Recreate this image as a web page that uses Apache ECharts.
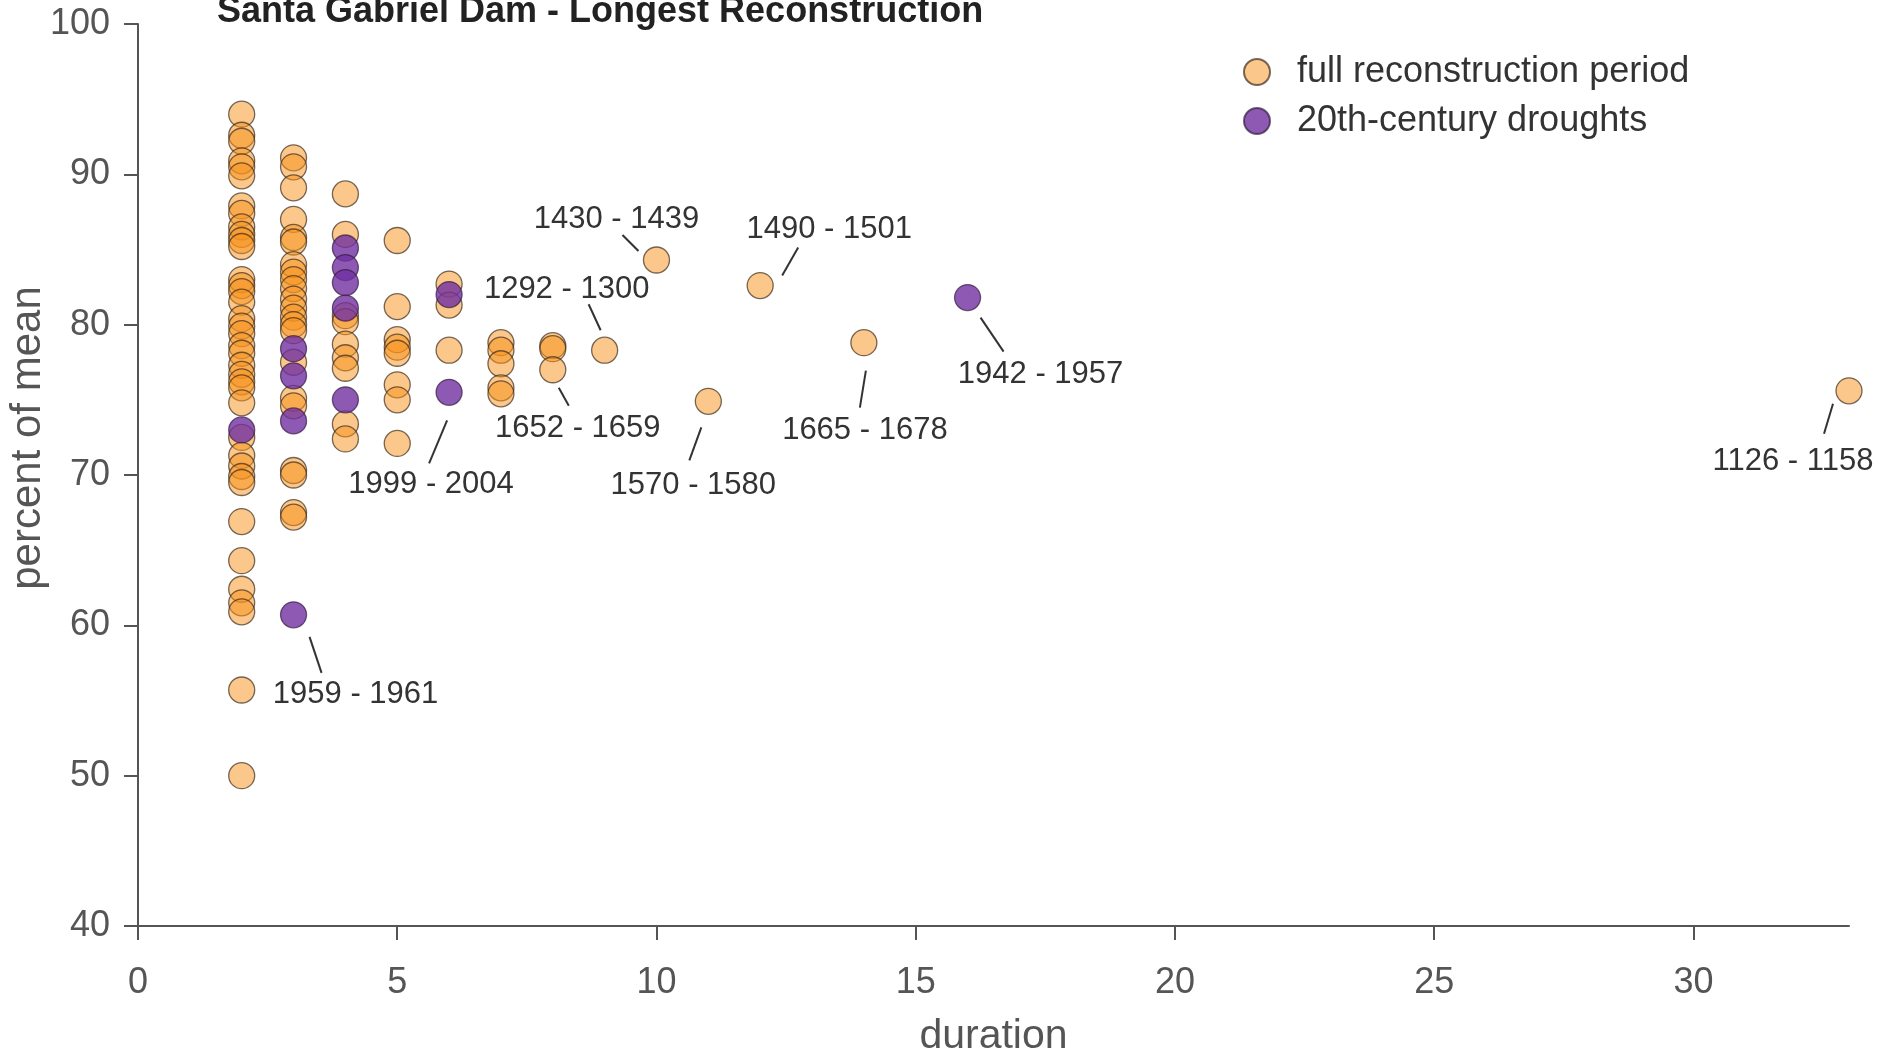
<!DOCTYPE html>
<html>
<head>
<meta charset="utf-8">
<script src="https://cdn.jsdelivr.net/npm/echarts@6/dist/echarts.min.js"></script>
<style>html,body{margin:0;padding:0;background:#fff}#c{width:1883px;height:1060px}</style>
</head>
<body>
<div id="c"></div>
<script>
// ---- data ----
const chartTitle = 'Santa Gabriel Dam - Longest Reconstruction';
const seriesNames = ['full reconstruction period', '20th-century droughts'];
const xTicks = [0, 5, 10, 15, 20, 25, 30];
const yTicks = [40, 50, 60, 70, 80, 90, 100];

// full reconstruction period: [duration, percent of mean]
const fullData = [
  [2,94.0],[2,92.6],[2,92.2],[2,90.9],[2,90.5],[2,89.9],[2,87.9],[2,87.4],[2,86.5],[2,86.0],
  [2,85.6],[2,85.2],[2,83.0],[2,82.6],[2,82.2],[2,81.5],[2,80.4],[2,79.9],[2,79.4],[2,78.6],
  [2,78.1],[2,77.3],[2,76.7],[2,76.2],[2,75.8],[2,74.8],[2,72.5],[2,71.3],[2,70.6],[2,69.9],
  [2,69.5],[2,66.9],[2,64.3],[2,62.4],[2,61.5],[2,60.9],[2,55.7],[2,50.0],
  [3,91.1],[3,90.5],[3,89.1],[3,87.0],[3,85.8],[3,85.5],[3,84.0],[3,83.5],[3,83.0],[3,82.4],
  [3,81.7],[3,81.1],[3,80.5],[3,80.0],[3,79.6],[3,77.5],[3,75.1],[3,74.6],[3,70.3],[3,70.0],
  [3,67.5],[3,67.2],
  [4,88.7],[4,86.0],[4,80.6],[4,80.2],[4,78.7],[4,77.8],[4,77.1],[4,73.4],[4,72.4],
  [5,85.6],[5,81.2],[5,79.0],[5,78.5],[5,78.1],[5,76.0],[5,75.0],[5,72.1],
  [6,82.7],[6,81.3],[6,78.3],
  [7,78.8],[7,78.3],[7,77.4],[7,75.8],[7,75.4],
  [8,78.6],[8,78.4],[8,77.0],
  [9,78.3],[10,84.3],[11,74.9],[12,82.6],[14,78.8],[33,75.6]
];
// 20th-century droughts
const droughtData = [
  [2,73.0],
  [3,78.4],[3,76.6],[3,73.6],[3,60.7],
  [4,85.1],[4,83.8],[4,82.8],[4,81.1],[4,75.0],
  [6,82.0],[6,75.5],
  [16,81.8]
];
// annotated events: [duration, percent, label]
const annotations = [
  [10,84.3,'1430 - 1439'],[12,82.6,'1490 - 1501'],[9,78.3,'1292 - 1300'],
  [8,77.0,'1652 - 1659'],[11,74.9,'1570 - 1580'],[14,78.8,'1665 - 1678'],
  [33,75.6,'1126 - 1158'],[6,75.5,'1999 - 2004'],[16,81.8,'1942 - 1957'],
  [3,60.7,'1959 - 1961']
];

// ---- annotation styling: pixel offsets from the point (text centre, leader start, leader end) ----
const annotStyle = {
  '1430 - 1439': { t: [-40, -41], l: [-34, -25, -18, -9] },
  '1490 - 1501': { t: [69, -56],  l: [22, -10, 38, -38] },
  '1292 - 1300': { t: [-38, -61], l: [-4, -20, -16, -46] },
  '1652 - 1659': { t: [25, 59],   l: [6, 18, 16, 36] },
  '1570 - 1580': { t: [-15, 84],  l: [-7, 26, -19, 59] },
  '1665 - 1678': { t: [1, 88],    l: [2, 28, -4, 65] },
  '1126 - 1158': { t: [-56, 71],  l: [-16, 13, -25, 43] },
  '1999 - 2004': { t: [-18, 92],  l: [-2, 28, -20, 71] },
  '1942 - 1957': { t: [73, 77],   l: [13, 20, 36, 54] },
  '1959 - 1961': { t: [62, 80],   l: [16, 22, 28, 58] }
};

const FONT = '"Liberation Sans", Arial, Helvetica, sans-serif';

const chart = echarts.init(document.getElementById('c'), null, { renderer: 'canvas' });
chart.setOption({
  backgroundColor: '#fff',
  animation: false,
  title: {
    text: chartTitle, left: 212, top: -11,
    textStyle: { fontFamily: FONT, fontSize: 36, fontWeight: 'bold', color: '#222' }
  },
  legend: {
    orient: 'vertical', left: 1238, top: 49, itemGap: 13,
    itemWidth: 26, itemHeight: 26, icon: 'circle',
    textStyle: { fontFamily: FONT, fontSize: 36, color: '#333', padding: [0, 0, 0, 22] },
    data: seriesNames
  },
  grid: { left: 138, right: 34, top: 24, bottom: 134, containLabel: false, outerBoundsMode: 'none' },
  xAxis: {
    type: 'value', min: 0, max: 33, interval: 5,
    name: 'duration', nameLocation: 'middle', nameGap: 90, nameMoveOverlap: false,
    nameTextStyle: { fontFamily: FONT, fontSize: 41, color: '#555' },
    axisLine: { show: true, onZero: false, lineStyle: { color: '#555', width: 2 } },
    axisTick: { show: true, length: 14, customValues: xTicks, lineStyle: { color: '#555', width: 2 } },
    axisLabel: { customValues: xTicks, margin: 39, fontFamily: FONT, fontSize: 36, color: '#555' },
    splitLine: { show: false }
  },
  yAxis: {
    type: 'value', min: 40, max: 100, interval: 10,
    name: 'percent of mean', nameLocation: 'middle', nameGap: 89, nameMoveOverlap: false,
    nameTextStyle: { fontFamily: FONT, fontSize: 42, color: '#555', padding: [0, 0, 0, 74] },
    axisLine: { show: true, lineStyle: { color: '#555', width: 2 } },
    axisTick: { show: true, length: 14, customValues: yTicks, lineStyle: { color: '#555', width: 2 } },
    axisLabel: { customValues: yTicks, margin: 28, fontFamily: FONT, fontSize: 36, color: '#555' },
    splitLine: { show: false }
  },
  series: [
    {
      name: seriesNames[0], type: 'scatter', symbol: 'circle', symbolSize: 26,
      itemStyle: { color: 'rgba(247,146,26,0.64)', borderColor: 'rgba(55,40,25,0.85)', borderWidth: 1.3 },
      emphasis: { disabled: true },
      data: fullData, z: 2
    },
    {
      name: seriesNames[1], type: 'scatter', symbol: 'circle', symbolSize: 26,
      itemStyle: { color: 'rgb(112,48,160)', borderColor: 'rgba(50,25,60,0.85)', borderWidth: 1.3 },
      emphasis: { disabled: true },
      data: droughtData, z: 3
    },
    {
      name: 'annotations', type: 'custom', clip: false, z: 4, silent: true,
      encode: { x: 0, y: 1 },
      data: annotations,
      renderItem: function (params, api) {
        const p = api.coord([api.value(0), api.value(1)]);
        const txt = annotations[params.dataIndex][2];
        const s = annotStyle[txt];
        return {
          type: 'group',
          children: [
            {
              type: 'line',
              shape: { x1: p[0] + s.l[0], y1: p[1] + s.l[1], x2: p[0] + s.l[2], y2: p[1] + s.l[3] },
              style: { stroke: '#333', lineWidth: 2 }
            },
            {
              type: 'text',
              x: p[0] + s.t[0], y: p[1] + s.t[1],
              style: {
                text: txt, fill: '#333', fontFamily: FONT, fontSize: 31,
                align: 'center', verticalAlign: 'middle'
              }
            }
          ]
        };
      }
    }
  ]
});
</script>
</body>
</html>
